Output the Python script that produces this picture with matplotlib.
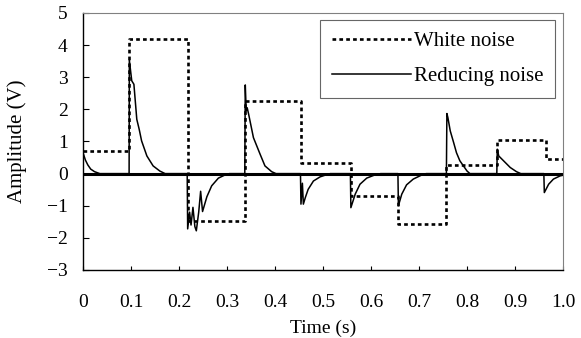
import matplotlib
matplotlib.use("Agg")
import matplotlib.pyplot as plt

# white noise: step edges (s) and levels (V)
wn_t = [0.0, 0.096, 0.219, 0.337, 0.454, 0.558, 0.657, 0.756, 0.862, 0.964, 1.0]
wn_v = [0.70, 4.19, -1.47, 2.26, 0.34, -0.69, -1.58, 0.27, 1.04, 0.45]

# reducing noise: spikes at each edge, decaying back to zero
rn_t = [0.0, 0.005, 0.010, 0.016, 0.024, 0.035,
        0.096, 0.0965, 0.1015, 0.106, 0.112, 0.117, 0.122, 0.133, 0.146, 0.160, 0.171,
        0.217, 0.218, 0.222, 0.225, 0.229, 0.233, 0.236, 0.241, 0.245, 0.249, 0.258, 0.268, 0.282, 0.296, 0.305,
        0.337, 0.338, 0.340, 0.342, 0.345, 0.355, 0.369, 0.379, 0.393, 0.402,
        0.453, 0.454, 0.457, 0.459, 0.463, 0.469, 0.480, 0.494, 0.508, 0.515,
        0.557, 0.558, 0.567, 0.577, 0.591, 0.608, 0.620,
        0.656, 0.657, 0.664, 0.674, 0.688, 0.706, 0.715,
        0.757, 0.758, 0.760, 0.765, 0.772, 0.778, 0.785, 0.800, 0.806,
        0.862, 0.863, 0.866, 0.876, 0.890, 0.903, 0.912,
        0.960, 0.961, 0.970, 0.980, 0.994, 1.0]
rn_v = [0.65, 0.42, 0.27, 0.14, 0.06, 0.0,
        0.0, 3.53, 2.89, 2.78, 1.69, 1.38, 1.02, 0.55, 0.24, 0.08, 0.0,
        0.0, -1.72, -1.20, -1.60, -1.05, -1.65, -1.78, -1.20, -0.55, -1.18, -0.72, -0.38, -0.14, -0.04, 0.0,
        0.0, 2.76, 1.95, 2.05, 1.85, 1.12, 0.60, 0.24, 0.06, 0.0,
        0.0, -0.95, -0.30, -0.95, -0.75, -0.49, -0.23, -0.10, -0.03, 0.0,
        0.0, -1.06, -0.64, -0.33, -0.14, -0.04, 0.0,
        0.0, -1.00, -0.64, -0.35, -0.17, -0.04, 0.0,
        0.0, 1.87, 1.75, 1.33, 0.97, 0.65, 0.40, 0.08, 0.0,
        0.0, 0.76, 0.55, 0.40, 0.19, 0.06, 0.0,
        0.0, -0.59, -0.33, -0.17, -0.07, -0.05]

xticks = [0, 0.1, 0.2, 0.3, 0.4, 0.5, 0.6, 0.7, 0.8, 0.9, 1.0]
xlabels = ["0", "0.1", "0.2", "0.3", "0.4", "0.5", "0.6", "0.7", "0.8", "0.9", "1.0"]
yticks = [-3, -2, -1, 0, 1, 2, 3, 4, 5]

plt.rcParams['font.family'] = ['Liberation Serif', 'DejaVu Serif']

fig = plt.figure(figsize=(5.81, 3.38), dpi=100)
ax = fig.add_axes([0.1429, 0.2012, 0.8262, 0.7604])

ax.axhline(0, color='black', lw=2.2, zorder=1)
ax.step(wn_t, wn_v + [wn_v[-1]], where='post', color='black', lw=1.9,
        linestyle=(0, (1.4, 1.2)), label='White noise', zorder=2)
ax.plot(rn_t, rn_v, color='black', lw=1.1, label='Reducing noise', zorder=3)

ax.set_xlim(0, 1.0)
ax.set_ylim(-3, 5)
ax.set_xticks(xticks)
ax.set_xticklabels(xlabels)
ax.set_yticks(yticks)
ax.tick_params(axis='x', direction='in', length=3, width=0.8, pad=17, labelsize=14)
ax.tick_params(axis='y', direction='in', length=4.5, width=0.8, pad=11, labelsize=14)

for s in ['top', 'right']:
    ax.spines[s].set_color('#808080')
for s in ['left', 'bottom']:
    ax.spines[s].set_color('black')
    ax.spines[s].set_linewidth(1.0)

ax.set_xlabel("Time (s)", fontsize=14)
ax.set_ylabel("Amplitude (V)", fontsize=15)
ax.xaxis.set_label_coords(0.5, -0.195)
ax.yaxis.set_label_coords(-0.117, 0.5)

leg = ax.legend(loc='upper right', bbox_to_anchor=(0.983, 0.973), borderaxespad=0,
                fontsize=15, frameon=True, fancybox=False, handlelength=3.8,
                handletextpad=0.15, labelspacing=0.75, borderpad=0.55)
leg.get_frame().set_edgecolor('#404040')
leg.get_frame().set_linewidth(0.8)

fig.savefig("out.png", dpi=100)
